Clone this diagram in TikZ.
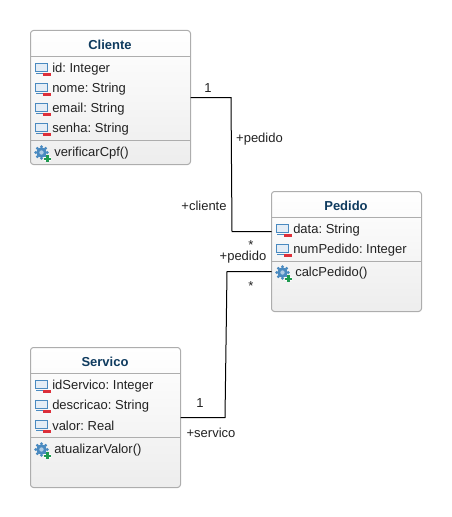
\documentclass[tikz,border=0pt]{standalone}
\usepackage{fontspec}
\setmainfont{Liberation Sans}
\usetikzlibrary{calc}
\frenchspacing
\definecolor{titleblue}{HTML}{0F3B5F}
\definecolor{frameg}{HTML}{ADADAD}
\definecolor{iconblue}{HTML}{4A8AC0}
\definecolor{iconred}{HTML}{DC2F3A}
\definecolor{icongreen}{HTML}{1E9A50}
\definecolor{txt}{HTML}{222222}
\tikzset{
  x=0.75pt,y=-0.75pt,
  classbox/.style={draw=frameg,line width=0.75pt,rounded corners=2.2pt,top color=white,bottom color=black!7,inner sep=0pt,outer sep=0pt},
  classtitle/.style={font=\bfseries\fontsize{9.75pt}{11pt}\selectfont,text=titleblue,inner sep=0pt},
  member/.style={font=\fontsize{9.75pt}{11pt}\selectfont\frenchspacing,text=txt,anchor=west,inner sep=0pt},
  tag/.style={font=\fontsize{9.75pt}{11pt}\selectfont\frenchspacing,text=txt,inner sep=0pt},
  divider/.style={draw=frameg,line width=0.75pt},
  conn/.style={draw=black,line width=0.75pt},
  attrib/.pic={
    \draw[iconblue,line width=1.1pt,fill=iconblue!15] (-6.5,-5.5) rectangle (5.5,2.5);
    \draw[iconblue,line width=1.1pt] (-6,4.5) -- (3,4.5);
    \fill[iconred] (1,4) rectangle (8.5,7.4);
  },
  oper/.pic={
    \foreach \a in {0,45,...,315}{\fill[iconblue] (\a:5.8) circle (1.6);}
    \fill[iconblue] (0,0) circle (5.2);
    \fill[white!55!iconblue] (0,0) circle (2.2);
    \fill[white] (2,4.2) rectangle (9.6,8);
    \fill[icongreen] (2.6,5) rectangle (9.4,7.2);
    \fill[icongreen] (4.9,2.6) rectangle (7.1,9.4);
  }
}
\begin{document}
\begin{tikzpicture}
\useasboundingbox (0,0) rectangle (451,517);
% class boxes
\node[classbox,minimum width=120pt,minimum height=100.5pt] (cliente) at (110.5,97.5) {};
\node[classbox,minimum width=112.5pt,minimum height=90pt] (pedido) at (346.5,251.5) {};
\node[classbox,minimum width=112.5pt,minimum height=105pt] (servico) at (105.5,417.5) {};
% dividers
\draw[divider] (30.5,56.5) -- (190.5,56.5);
\draw[divider] (30.5,140.5) -- (190.5,140.5);
\draw[divider] (271.5,217.5) -- (421.5,217.5);
\draw[divider] (271.5,261.5) -- (421.5,261.5);
\draw[divider] (30.5,373.5) -- (180.5,373.5);
\draw[divider] (30.5,437.5) -- (180.5,437.5);
% titles
\node[classtitle] (tc) at (110,45) {Cliente};
\node[classtitle] (tp) at (346,205.5) {Pedido};
\node[classtitle] (ts) at (105,362) {Servico};
% icons
\foreach \p in {(42,69),(42,89),(42,109),(42,129),(283,230),(283,250),(42,386),(42,406),(42,426)}
  \pic at \p {attrib};
\foreach \p in {(41.5,152.5),(282.5,272.5),(41.5,449.5)}
  \pic at \p {oper};
% members
\node[member] (c1) at (52,69) {id: Integer};
\node[member] (c2) at (52,89) {nome: String};
\node[member] (c3) at (52,109) {email: String};
\node[member] (c4) at (52,129) {senha: String};
\node[member] (c5) at (54,153) {verificarCpf()};
\node[member] (p1) at (293,230) {data: String};
\node[member] (p2) at (293,250) {numPedido: Integer};
\node[member] (p3) at (295,273) {calcPedido()};
\node[member] (s1) at (52,386) {idServico: Integer};
\node[member] (s2) at (52,406) {descricao: String};
\node[member] (s3) at (52,426) {valor: Real};
\node[member] (s4) at (54,450) {atualizarValor()};
% connectors
\coordinate (pa) at ([yshift=15pt]pedido.west);
\coordinate (pb) at ([yshift=-15pt]pedido.west);
\coordinate (b1) at (231,97.5);
\coordinate (b2) at (232,231.5);
\coordinate (b3) at (227,271.5);
\coordinate (b4) at (225,417.5);
\draw[conn] (cliente.east) -- (b1) -- (b2) -- (pa);
\draw[conn] (pb) -- (b3) -- (b4) -- (servico.east);
% labels
\node[tag] (l1) at (208,88) {1};
\node[tag] (l2) at (259.5,139.5) {+pedido};
\node[tag] (l3) at (204,205.5) {+cliente};
\node[tag] (l4) at (251,245) {*};
\node[tag] (l5) at (243,257.5) {+pedido};
\node[tag] (l6) at (251,286) {*};
\node[tag] (l7) at (200,403) {1};
\node[tag] (l8) at (211,433) {+servico};
\end{tikzpicture}
\end{document}
